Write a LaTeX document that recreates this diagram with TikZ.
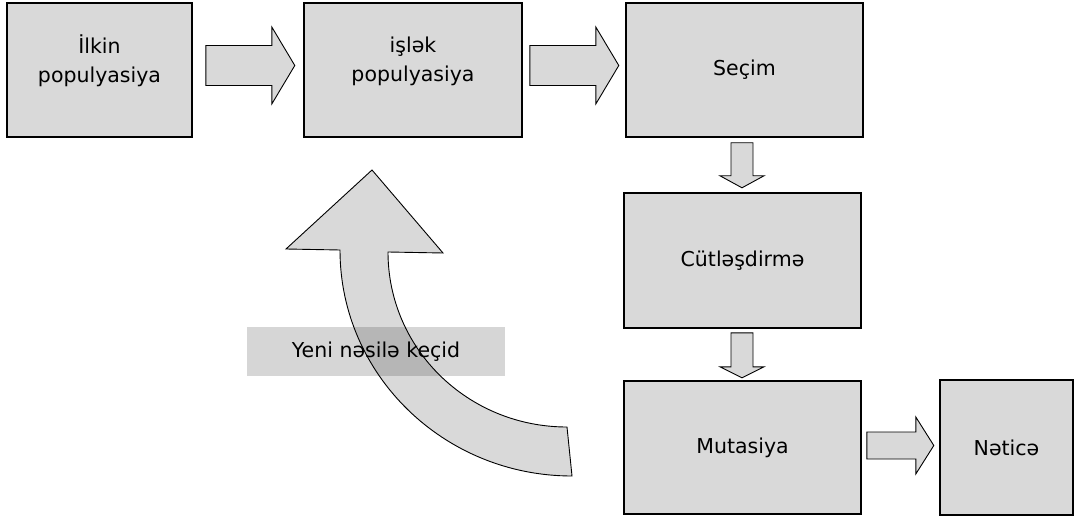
\documentclass[tikz,border=0pt]{standalone}
\usepackage{fontspec}
\setmainfont{DejaVu Sans}
\usetikzlibrary{calc}

\definecolor{boxgray}{HTML}{D9D9D9}
\tikzset{
	box/.style={draw=black,line width=1.6pt,fill=boxgray,inner sep=0pt},
	txt/.style={font=\fontsize{20.5}{29}\selectfont,align=center,inner sep=0pt},
	blk/.style={draw=black,line width=0.9pt,fill=boxgray},
	% length / half shaft / half head / head length
	pics/blockarr/.style n args={4}{code={
		\draw[blk] (0,-#2) -- ({#1-#4},-#2) -- ({#1-#4},-#3) -- (#1,0) -- ({#1-#4},#3) -- ({#1-#4},#2) -- (0,#2) -- cycle;
	}},
}

\begin{document}
\begin{tikzpicture}[x=1pt,y=-1pt]
	      \useasboundingbox (0,0) rectangle (1075,518);
	      % boxes
	      \node[box,minimum width=185pt,minimum height=134pt] (b1) at (99.5,70) {};
	      \node[box,minimum width=218pt,minimum height=134pt] (b2) at (413,70) {};
	      \node[box,minimum width=237pt,minimum height=134pt] (b3) at (744.5,70) {};
	      \node[box,minimum width=237pt,minimum height=135pt] (b4) at (742.5,260.5) {};
	      \node[box,minimum width=237pt,minimum height=133pt] (b5) at (742.5,447.5) {};
	      \node[box,minimum width=133pt,minimum height=135pt] (b6) at (1006.5,447.5) {};
	      \node[txt] (t1) at ([yshift=9pt]b1.center) {İlkin\\populyasiya};
	      \node[txt] (t2) at ([yshift=9pt]b2.center) {işlək\\populyasiya};
	      \node[txt] (t3) at (b3) {Seçim};
	      \node[txt] (t4) at (b4) {Cütləşdirmə};
	      \node[txt] (t5) at (b5) {Mutasiya};
	      \node[txt] (t6) at (b6) {Nəticə};
	      % block arrows
	      \pic (a1) at ($(b1.east)+(13,-4.5)$) {blockarr={89}{20}{38.5}{23}};
	      \pic (a2) at ($(b2.east)+(7,-4.5)$) {blockarr={89}{20}{38.5}{23}};
	      \pic[rotate=-90] (a3) at ($(b3.south)+(-2.5,5)$) {blockarr={45}{11}{22}{12}};
	      \pic[rotate=-90] (a4) at ($(b4.south)+(-0.5,4)$) {blockarr={45}{11}{22}{11}};
	      \pic (a5) at ($(b5.east)+(5,-2)$) {blockarr={67}{13.5}{28.5}{18}};
	      % curved arrow back to the working population
	      \draw[blk] (372,170) -- (443,253) -- (388,252)
	            .. controls (388,349) and (468,427) .. (567,427) -- (572,476)
	            .. controls (444,476) and (340,375) .. (340,250) -- (286,249) -- cycle;
	      \node[txt,fill=black,fill opacity=0.16,text opacity=1,minimum width=258pt,minimum height=49pt] (back) at (376,351.5) {Yeni nəsilə keçid};
	  \end{tikzpicture}
\end{document}
